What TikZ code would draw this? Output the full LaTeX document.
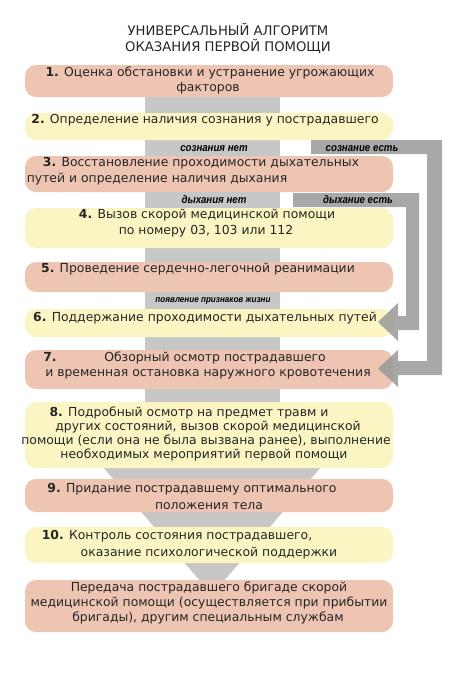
\documentclass[tikz,border=0pt]{standalone}
\usepackage{fontspec}
\setmainfont{DejaVu Sans}
\newfontfamily\lblfont{Liberation Sans}
\definecolor{salmon}{HTML}{EEC4B2}
\definecolor{lyellow}{HTML}{FBF5C4}
\definecolor{lgray}{HTML}{C7C7C7}
\definecolor{dgray}{HTML}{999999}
\definecolor{txtc}{HTML}{262626}
\begin{document}
\begin{tikzpicture}[x=1pt,y=-1pt,
  box/.style={rounded corners=11pt, inner sep=0, minimum width=368pt},
  pinkbox/.style={box, fill=salmon},
  yelbox/.style={box, fill=lyellow},
  tx/.style={font=\fontsize{12.4}{15}\selectfont, text=txtc, inner sep=0, anchor=base},
  ttl/.style={font=\fontsize{13.2}{16}\selectfont, text=txtc, inner sep=0, anchor=base},
  lbl/.style={font=\lblfont\bfseries\itshape\fontsize{11}{12}\selectfont, text=black, inner sep=0, anchor=base},
  sml/.style={font=\lblfont\bfseries\itshape\fontsize{9}{10}\selectfont, text=black, inner sep=0, anchor=base},
  arr/.style={fill=dgray, fill opacity=0.85}
]
\useasboundingbox (0,0) rectangle (474,673);
\fill[white] (0,0) rectangle (474,673);
% central bar and funnel
\fill[lgray] (145,97) rectangle (280,405);
\fill[lgray] (80,440) -- (344,440) -- (212,595) -- cycle;
% title
\node[ttl] (t1) at (228,35.5) {УНИВЕРСАЛЬНЫЙ АЛГОРИТМ};
\node[ttl] (t2) at (228,51.5) {ОКАЗАНИЯ ПЕРВОЙ ПОМОЩИ};
% boxes
\node[pinkbox, minimum height=32pt] (b1) at (209,81) {};
\node[yelbox, minimum height=27pt] (b2) at (209,126.5) {};
\node[pinkbox, minimum height=36pt] (b3) at (209,174) {};
\node[yelbox, minimum height=40pt] (b4) at (209,228) {};
\node[pinkbox, minimum height=30pt] (b5) at (209,277) {};
\node[yelbox, minimum height=28pt] (b6) at (209,323) {};
\node[pinkbox, minimum height=39pt] (b7) at (209,369.5) {};
\node[yelbox, minimum height=66pt] (b8) at (209,435) {};
\node[pinkbox, minimum height=33pt] (b9) at (209,495.5) {};
\node[yelbox, minimum height=36pt] (b10) at (209,545) {};
\node[pinkbox, minimum height=52pt] (b11) at (209,606) {};
% texts
\node[tx] (x1a) at (210,76.5) {\textbf{1.} Оценка обстановки и устранение угрожающих};
\node[tx] (x1b) at (208,91.5) {факторов};
\node[tx] (x2) at (205,123.5) {\textbf{2.} Определение наличия сознания у пострадавшего};
\node[tx] (x3a) at (201,166.5) {\textbf{3.} Восстановление проходимости дыхательных};
\node[tx] (x3b) at (157,182.5) {путей и определение наличия дыхания};
\node[tx] (x4a) at (207,218.5) {\textbf{4.} Вызов скорой медицинской помощи};
\node[tx] (x4b) at (206,234.5) {по номеру 03, 103 или 112};
\node[tx] (x5) at (198,272.5) {\textbf{5.} Проведение сердечно-легочной реанимации};
\node[tx] (x6) at (205,321.5) {\textbf{6.} Поддержание проходимости дыхательных путей};
\node[tx] (x7n) at (50,361.5) {\textbf{7.}};
\node[tx] (x7a) at (215,361.5) {Обзорный осмотр пострадавшего};
\node[tx] (x7b) at (208,376.5) {и временная остановка наружного кровотечения};
\node[tx] (x8a) at (189,416.5) {\textbf{8.} Подробный осмотр на предмет травм и};
\node[tx] (x8b) at (208,430.5) {других состояний, вызов скорой медицинской};
\node[tx] (x8c) at (206,444.5) {помощи (если она не была вызвана ранее), выполнение};
\node[tx] (x8d) at (204,458.5) {необходимых мероприятий первой помощи};
\node[tx] (x9a) at (192,492.5) {\textbf{9.} Придание пострадавшему оптимального};
\node[tx] (x9b) at (209,509.5) {положения тела};
\node[tx] (x10a) at (177,539.5) {\textbf{10.} Контроль состояния пострадавшего,};
\node[tx] (x10b) at (209,556.5) {оказание психологической поддержки};
\node[tx] (x11a) at (209,591.5) {Передача пострадавшего бригаде скорой};
\node[tx] (x11b) at (209,606.5) {медицинской помощи (осуществляется при прибытии};
\node[tx] (x11c) at (208,621.5) {бригады), другим специальным службам};
% side arrows
\fill[arr] (311,140) -- (442,140) -- (442,375) -- (398,375) -- (398,387) -- (378,368.5) -- (398,350) -- (398,361) -- (427,361) -- (427,154) -- (311,154) -- cycle;
\fill[arr] (293,193) -- (419,193) -- (419,330) -- (398,330) -- (398,341) -- (378,322) -- (398,303) -- (398,316) -- (406,316) -- (406,207) -- (293,207) -- cycle;
% labels
\node[lbl] (l1) at (214,151.5) {\scalebox{0.88}[1]{сознания нет}};
\node[lbl] (l2) at (362,151.5) {\scalebox{0.88}[1]{сознание есть}};
\node[lbl] (l3) at (214,203.5) {\scalebox{0.88}[1]{дыхания нет}};
\node[lbl] (l4) at (358,203.5) {\scalebox{0.88}[1]{дыхание есть}};
\node[sml] (l5) at (213,302.5) {\scalebox{0.9}[1]{появление признаков жизни}};
\end{tikzpicture}
\end{document}
